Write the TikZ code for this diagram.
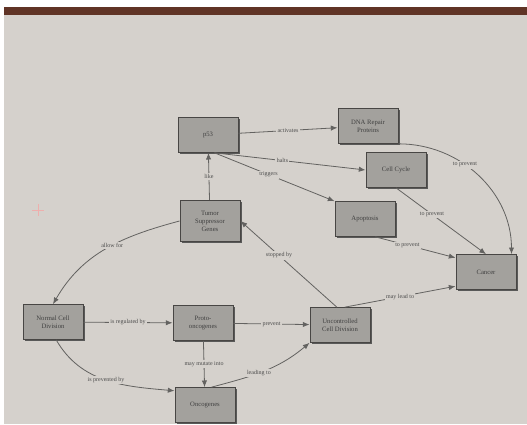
\documentclass[tikz,border=0pt]{standalone}
\usepackage{fontspec}
\setmainfont{Liberation Serif}
\usetikzlibrary{arrows.meta,shadows}

\definecolor{paper}{RGB}{213,209,204}
\definecolor{boxgray}{RGB}{163,161,157}
\definecolor{inkgray}{RGB}{72,70,68}
\definecolor{bandbrown}{RGB}{96,52,38}

\tikzset{every picture/.style={line width=0.75pt}}
\tikzset{
  concept/.style={draw=inkgray, fill=boxgray, minimum width=45pt, minimum height=26pt,
    align=center, inner sep=1pt, font=\fontsize{5}{6}\selectfont, text=black!75,
    drop shadow={shadow xshift=1.3pt, shadow yshift=-1.3pt, fill=black!70, opacity=0.9}},
  link/.style={draw=inkgray!85, line width=0.6pt, -{Latex[length=5pt,width=4pt]}},
  lbl/.style={fill=paper, inner sep=1pt, font=\fontsize{4.5}{5}\selectfont, text=black!70},
}

\begin{document}
\begin{tikzpicture}[x=0.75pt,y=0.75pt,yscale=-1,xscale=1]
\useasboundingbox (0,0) rectangle (527,424);

%Shape: Rectangle [paper and photo edges]
\fill [white] (0,0) rectangle (527,424);
\fill [paper] (4,14) rectangle (527,424);
\fill [bandbrown] (4,7) rectangle (527,15);
%Shape: pencil cross
\draw [red!40, line width=0.4pt, opacity=0.6] (32,210) -- (44,210) (38,204) -- (38,216);

% Concept Nodes
\node [concept] (p53) at (208,135) {p53};
\node [concept] (dna) at (368,126) {DNA Repair\\Proteins};
\node [concept] (cycle) at (396,170) {Cell Cycle};
\node [concept] (apop) at (365,219) {Apoptosis};
\node [concept] (cancer) at (486,272) {Cancer};
\node [concept, minimum height=31pt] (tsg) at (210,221) {Tumor\\Suppressor\\Genes};
\node [concept] (normal) at (53,322) {Normal Cell\\Division};
\node [concept] (proto) at (203,323) {Proto-\\oncogenes};
\node [concept] (uncon) at (340,325) {Uncontrolled\\Cell Division};
\node [concept] (onco) at (205,405) {Oncogenes};

% Links
\draw [link] (p53) -- node [lbl] {activates} (dna);
\draw [link] (p53.290) -- node [lbl, pos=.45] {halts} (cycle.west);
\draw [link] (p53.290) -- node [lbl, pos=.45] {triggers} (apop.north west);
\draw [link] (tsg) -- node [lbl] {like} (p53);
\draw [link] (dna.south east) to [out=0,in=-90] node [lbl, pos=.4] {to prevent} (cancer.35);
\draw [link] (cycle.south) -- node [lbl, pos=.4] {to prevent} (cancer.north);
\draw [link] (apop.-60) -- node [lbl, pos=.4] {to prevent} (cancer.155);
\draw [link] (uncon.75) -- node [lbl, pos=.5] {may lead to} (cancer.205);
\draw [link] (uncon.100) -- node [lbl, pos=.6] {stopped by} (tsg.east);
\draw [link] (tsg.west) to [out=165,in=-60] node [lbl, pos=.45] {allow for} (normal.north);
\draw [link] (normal) -- node [lbl] {is regulated by} (proto);
\draw [link] (proto) -- node [lbl] {prevent} (uncon);
\draw [link] (proto) -- node [lbl] {may mutate into} (onco);
\draw [link] (onco.70) to [out=-15,in=140] node [lbl, pos=.45] {leading to} (uncon.south west);
\draw [link] (normal.-80) to [out=60,in=185] node [lbl, pos=.5] {is prevented by} (onco.155);

\end{tikzpicture}
\end{document}
